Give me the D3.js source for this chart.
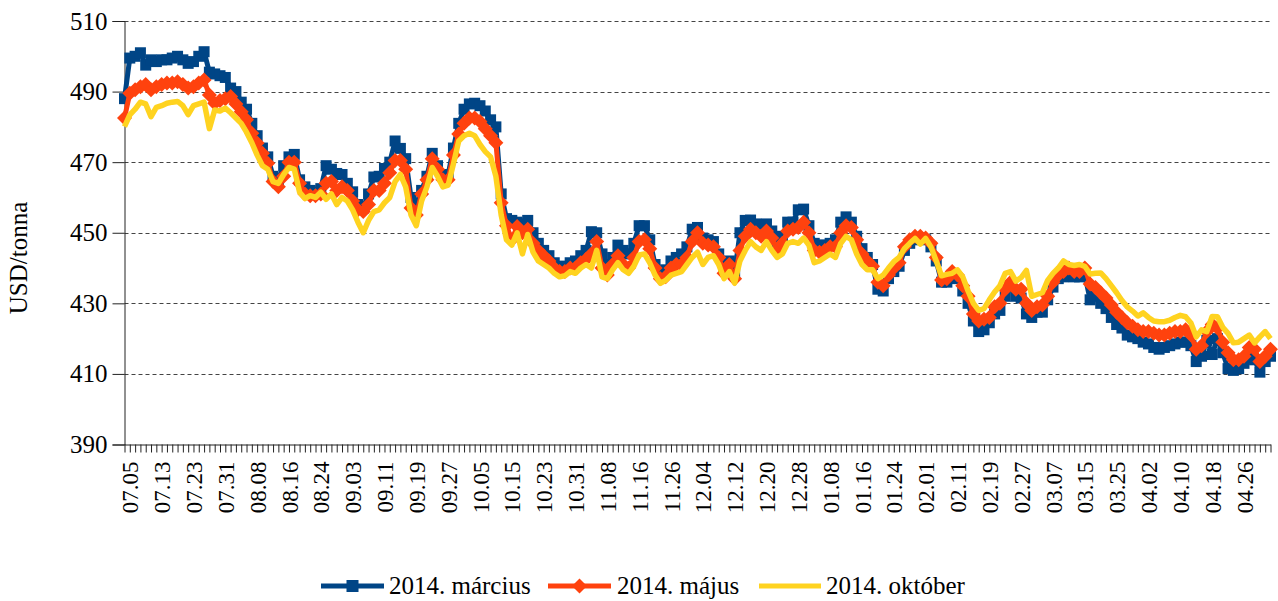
<!DOCTYPE html>
<html>
<head>
<meta charset="utf-8">
<script src="https://cdn.jsdelivr.net/npm/d3@7"></script>
<style>
  body { margin: 0; background: #fff; }
  text { font-family: "Liberation Serif", "Times New Roman", serif; fill: #000; }
</style>
</head>
<body>
<div id="chart"></div>
<script>
// trading days 2012.07.04 - 2013.05.03 (mm.dd)
const dates = [
  '07.04','07.05','07.06','07.09','07.10','07.11','07.12','07.13','07.16','07.17','07.18','07.19','07.20','07.23','07.24','07.25','07.26','07.27','07.30','07.31',
  '08.01','08.02','08.03','08.06','08.07','08.08','08.09','08.10','08.13','08.14','08.15','08.16','08.17','08.20','08.21','08.22','08.23','08.24','08.27','08.28','08.29','08.30','08.31',
  '09.03','09.04','09.05','09.06','09.07','09.10','09.11','09.12','09.13','09.14','09.17','09.18','09.19','09.20','09.21','09.24','09.25','09.26','09.27','09.28',
  '10.01','10.02','10.03','10.04','10.05','10.08','10.09','10.10','10.11','10.12','10.15','10.16','10.17','10.18','10.19','10.22','10.23','10.24','10.25','10.26','10.29','10.30','10.31',
  '11.01','11.02','11.05','11.06','11.07','11.08','11.09','11.12','11.13','11.14','11.15','11.16','11.19','11.20','11.21','11.22','11.23','11.26','11.27','11.28','11.29','11.30',
  '12.03','12.04','12.05','12.06','12.07','12.10','12.11','12.12','12.13','12.14','12.17','12.18','12.19','12.20','12.21','12.24','12.25','12.26','12.27','12.28','12.31',
  '01.02','01.03','01.04','01.07','01.08','01.09','01.10','01.11','01.14','01.15','01.16','01.17','01.18','01.21','01.22','01.23','01.24','01.25','01.28','01.29','01.30','01.31',
  '02.01','02.04','02.05','02.06','02.07','02.08','02.11','02.12','02.13','02.14','02.15','02.18','02.19','02.20','02.21','02.22','02.25','02.26','02.27','02.28',
  '03.01','03.04','03.05','03.06','03.07','03.08','03.11','03.12','03.13','03.14','03.15','03.18','03.19','03.20','03.21','03.22','03.25','03.26','03.27','03.28','03.29',
  '04.01','04.02','04.03','04.04','04.05','04.08','04.09','04.10','04.11','04.12','04.15','04.16','04.17','04.18','04.19','04.22','04.23','04.24','04.25','04.26','04.29','04.30',
  '05.01','05.02','05.03'
]

const tickLabels = ['07.05','07.13','07.23','07.31','08.08','08.16','08.24','09.03','09.11','09.19','09.27','10.05',
  '10.15','10.23','10.31','11.08','11.16','11.26','12.04','12.12','12.20','12.28','01.08','01.16',
  '01.24','02.01','02.11','02.19','02.27','03.07','03.15','03.25','04.02','04.10','04.18','04.26']

const yTicks = [390, 410, 430, 450, 470, 490, 510]

const seriesNames = ['2014. március', '2014. május', '2014. október']

const marcius = [
  488, 499.5, 500, 501, 497.5, 499, 498.5, 499, 499, 499.5,
  500, 499, 498, 498.5, 500, 501.3, 495.5, 495, 494.5, 494,
  491, 490, 487, 485, 481, 477.5, 474, 471.5, 466, 465,
  469, 471.5, 472.2, 465, 463, 462, 461.5, 462.5, 469, 468,
  466.8, 466.5, 464, 461.6, 458, 457, 461, 465.8, 466, 468.2,
  470, 476, 473.9, 471, 460, 458, 462, 466, 472.5, 469,
  466, 466.5, 474, 481, 485, 486.5, 486.7, 486, 484.5, 482,
  480, 461, 454, 453.5, 453, 452.5, 453.5, 450, 447, 445,
  443.5, 441.5, 440.5, 440.5, 441.5, 442, 443.5, 445, 450.3, 450,
  444, 441, 443, 446.5, 445, 444, 447, 452, 452, 448,
  441, 438.5, 439.5, 442, 443, 444, 446, 451, 451.5, 448.5,
  448, 447.5, 444, 440, 442, 438.5, 450, 453.5, 453.6, 452.5,
  451, 452.5, 450.5, 447, 449, 453, 453, 456.5, 456.7, 452,
  447, 446.5, 446.5, 447, 448, 453, 454.5, 453, 449, 445.5,
  443, 441, 434, 433.5, 437, 439, 440.5, 445, 447, 448,
  448.5, 448, 446, 442, 436, 436, 438, 437, 433.5, 430,
  425, 422, 422.5, 424.5, 427, 428, 432, 435, 432, 431.5,
  427, 426, 427.5, 427.5, 431, 434.6, 437, 437.5, 438, 437.5,
  437.5, 438, 431, 432, 430, 428.5, 426, 424, 423, 421,
  420.5, 420, 419, 418.5, 417.5, 417, 417.5, 418, 418.5, 419,
  419, 418, 413.5, 415, 419.5, 415.5, 420, 416, 411.5, 411,
  411.5, 413, 414.5, 414, 410.5, 413.5, 415
]

const majus = [
  482.5, 489.5, 490.5, 491.4, 492, 490.5, 491.4, 492, 492.4, 492.4,
  492.8, 492, 491, 491.4, 492.4, 493.3, 489, 486.7, 487.5, 488,
  488.6, 486.5, 484.3, 482, 478.2, 475.4, 472.5, 469.7, 464.5, 463,
  466, 470, 470, 464, 461, 460.5, 460.5, 461, 464, 464.5,
  462, 463, 462, 459, 456.5, 456, 458, 462, 462, 464,
  467, 470.5, 470.5, 468, 457, 455, 461, 465, 471, 468,
  465, 465, 472, 478, 481, 482.5, 482.5, 481.5, 479.5, 477.5,
  475.5, 458.5, 452, 448, 451.8, 450, 451, 447, 445, 443.5,
  442, 440, 439, 439, 440, 440, 441.5, 442.5, 444, 447.5,
  440, 438, 441, 443.5, 441, 440, 443, 447.5, 448, 445.5,
  440, 437, 437.5, 440, 441, 441, 443, 447.5, 450, 447,
  446.5, 446, 443, 438.5, 441, 437, 445, 449, 451, 450,
  449, 450.5, 448.5, 445, 447, 450.5, 451, 451.5, 453, 450,
  445, 444.5, 445, 446, 446, 450, 452, 451.5, 448, 444,
  442, 440.5, 436, 435, 438, 440, 441.5, 446, 448, 449,
  449, 448.5, 447, 443, 436.6, 437, 439, 438, 435, 432,
  427, 425, 425.5, 426, 429, 430, 434, 436, 434, 434,
  430, 428, 429, 429.5, 432, 436, 438, 439, 440, 439,
  439, 440, 435.5, 434.5, 433, 431.5, 429.5, 427.5, 426, 424.5,
  423.5, 422.5, 422, 422, 421.5, 421, 421, 421.5, 422, 422,
  422.5, 421, 417, 418, 422, 424, 423, 419, 416, 414,
  414, 415, 417.5, 417, 413.5, 415, 417
]

const oktober = [
  480.1, 483.4, 485, 487, 486.5, 482.9, 485.5, 486, 486.7, 487,
  487.2, 486, 483.5, 486, 486.5, 487, 479.5, 484.8, 484.5, 485.3,
  484, 482.5, 481, 478.5, 475.5, 472, 469, 468, 464.5, 464,
  466.5, 468.5, 468, 461.5, 459.7, 460.5, 460, 461.5, 459.5, 461,
  458, 460, 459, 456.5, 453, 450, 453.5, 456, 456.5, 458.5,
  460, 464.5, 466.5, 463, 455, 452, 459, 463, 468.5, 466,
  463, 463.5, 469.5, 476, 477.5, 478.2, 477.5, 475, 473, 471.5,
  466, 455, 448, 446.5, 450, 444, 449.5, 444.5, 442, 441,
  440, 438.5, 437.5, 437.8, 439, 438.5, 440, 441, 440, 445,
  437.5, 437, 439.5, 441.5, 439.5, 438.5, 440.5, 443.7, 444, 441.5,
  438, 435.7, 436.5, 438, 438.5, 439, 441, 443, 444.5, 441,
  443, 443.5, 441, 437, 439, 435.7, 442, 445, 447.5, 446,
  445, 447.5, 445, 443, 444, 447, 447.5, 447, 448.5, 446.5,
  441.5, 442, 443, 444, 443, 447, 449, 448, 444, 441,
  439.5, 439.5, 437, 438, 440, 441.8, 443, 445.5, 447, 448.4,
  446.8, 448.4, 446, 442, 437.8, 438.2, 438.5, 439.5, 437.5, 433.5,
  430, 428, 428.5, 431, 433.2, 435, 438.5, 439, 436.3, 437.3,
  439.3, 432, 432.5, 433, 436.5, 438.5, 440, 442, 441, 440.7,
  441, 440.5, 438.3, 438.5, 438.6, 437, 435, 433, 430.8, 429,
  427.8, 426.4, 427.3, 426, 425, 424.8, 424.8, 425.2, 426, 426.6,
  426.2, 424.4, 420.5, 422.5, 422, 426.3, 426.2, 423.2, 421.5, 418.8,
  419, 420, 421, 418.8, 420.5, 422, 420
]

// chart setting
const chart = {
  'width' : 1278,
  'height' : 601,
  'left' : 124.5,
  'right' : 1270.5,
  'top' : 21,
  'bottom' : 444.5
}

const colors = ['#004586', '#ff420e', '#ffd320']

const svg = d3.select('#chart')
  .append('svg')
    .attr('width', chart.width)
    .attr('height', chart.height)

const xScale = d3.scalePoint()
  .domain(dates)
  .range([chart.left, chart.right])

const yScale = d3.scaleLinear()
  .domain([390, 510])
  .range([chart.bottom, chart.top])

// gridlines
svg.append('g')
  .selectAll('line')
  .data(yTicks.filter(d => d > 390))
  .join('line')
    .attr('x1', chart.left)
    .attr('x2', chart.right)
    .attr('y1', d => Math.round(yScale(d)) + 0.5)
    .attr('y2', d => Math.round(yScale(d)) + 0.5)
    .attr('stroke', '#444')
    .attr('stroke-width', 1)
    .attr('stroke-dasharray', '4,3')

// y axis
const yAxis = svg.append('g')
  .attr('transform', `translate(${chart.left},0)`)
  .call(d3.axisLeft(yScale).tickValues(yTicks).tickSize(12).tickPadding(5).tickFormat(d3.format('d')))
yAxis.select('.domain').attr('stroke', '#222')
yAxis.selectAll('.tick line').attr('stroke', '#222')
yAxis.selectAll('text')
  .style('font-family', '"Liberation Serif", serif')
  .style('font-size', '25px')
  .attr('fill', '#000')

// x axis
const xAxis = svg.append('g')
  .attr('transform', `translate(0,${chart.bottom})`)
  .call(d3.axisBottom(xScale).tickSize(8).tickSizeOuter(0)
    .tickFormat(d => tickLabels.includes(d) ? d : ''))
xAxis.select('.domain').attr('stroke', '#222')
xAxis.selectAll('.tick line').attr('stroke', '#222')
xAxis.selectAll('text')
  .style('font-family', '"Liberation Serif", serif')
  .style('font-size', '23px')
  .attr('fill', '#000')
  .attr('transform', 'rotate(-90)')
  .attr('text-anchor', 'end')
  .attr('x', -17)
  .attr('y', 0)
  .attr('dy', '0.35em')

// y title
svg.append('text')
  .attr('transform', 'translate(27,258) rotate(-90)')
  .attr('text-anchor', 'middle')
  .style('font-size', '25px')
  .text('USD/tonna')

const line = d3.line()
  .x((d, i) => xScale(dates[i]))
  .y(d => yScale(d))

const diamond = 'M0,-7.5L7.5,0L0,7.5L-7.5,0Z'

// 2014. március
svg.append('path')
  .datum(marcius)
  .attr('d', line)
  .attr('fill', 'none')
  .attr('stroke', colors[0])
  .attr('stroke-width', 5)
  .attr('stroke-linejoin', 'round')

svg.append('g')
  .selectAll('rect')
  .data(marcius)
  .join('rect')
    .attr('x', (d, i) => xScale(dates[i]) - 5.5)
    .attr('y', d => yScale(d) - 5.5)
    .attr('width', 11)
    .attr('height', 11)
    .attr('fill', colors[0])

// 2014. május
svg.append('path')
  .datum(majus)
  .attr('d', line)
  .attr('fill', 'none')
  .attr('stroke', colors[1])
  .attr('stroke-width', 5)
  .attr('stroke-linejoin', 'round')

svg.append('g')
  .selectAll('path')
  .data(majus)
  .join('path')
    .attr('d', diamond)
    .attr('transform', (d, i) => `translate(${xScale(dates[i])},${yScale(d)})`)
    .attr('fill', colors[1])

// 2014. október
svg.append('path')
  .datum(oktober)
  .attr('d', line)
  .attr('fill', 'none')
  .attr('stroke', colors[2])
  .attr('stroke-width', 5.5)
  .attr('stroke-linejoin', 'round')

// legend
const legend = [
  {x1: 321, x2: 384, tx: 389},
  {x1: 548, x2: 611, tx: 617},
  {x1: 759, x2: 821, tx: 826}
]
const lg = svg.append('g')
legend.forEach((l, i) => {
  lg.append('line')
    .attr('x1', l.x1).attr('x2', l.x2)
    .attr('y1', 586).attr('y2', 586)
    .attr('stroke', colors[i])
    .attr('stroke-width', 5)
  const cx = (l.x1 + l.x2) / 2
  if (i === 0) {
    lg.append('rect')
      .attr('x', cx - 6).attr('y', 580)
      .attr('width', 12).attr('height', 12)
      .attr('fill', colors[i])
  } else if (i === 1) {
    lg.append('path')
      .attr('d', diamond)
      .attr('transform', `translate(${cx},586)`)
      .attr('fill', colors[i])
  }
  lg.append('text')
    .attr('x', l.tx)
    .attr('y', 594)
    .style('font-size', '25px')
    .text(seriesNames[i])
})
</script>
</body>
</html>
